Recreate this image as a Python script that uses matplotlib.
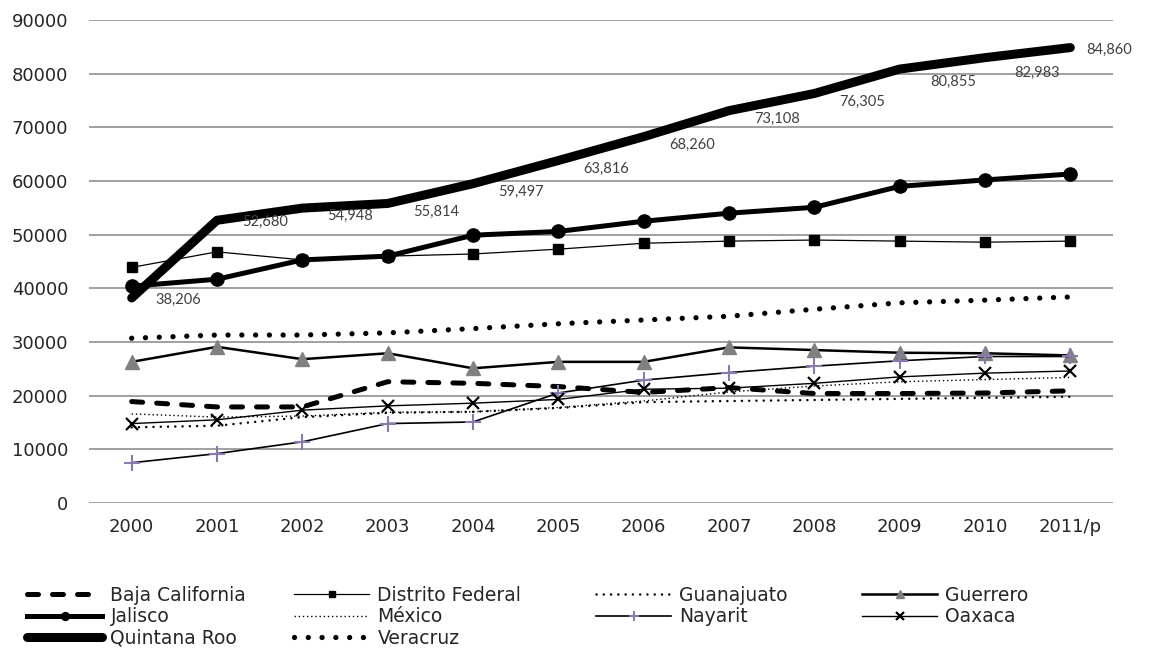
import matplotlib
matplotlib.use("Agg")
import matplotlib.pyplot as plt

years = ["2000", "2001", "2002", "2003", "2004", "2005", "2006", "2007", "2008", "2009", "2010", "2011/p"]

baja_california = [18900, 17900, 17900, 22600, 22300, 21700, 20600, 21500, 20400, 20400, 20500, 20900]
distrito_federal = [43900, 46800, 45300, 46000, 46400, 47300, 48400, 48800, 49000, 48800, 48600, 48800]
guanajuato = [14100, 14400, 16000, 16800, 17000, 17700, 18800, 19000, 19200, 19400, 19600, 19800]
guerrero = [26300, 29100, 26800, 27900, 25100, 26300, 26300, 29000, 28500, 28000, 27900, 27500]
jalisco = [40400, 41700, 45300, 46000, 49900, 50600, 52500, 54000, 55100, 59000, 60200, 61300]
mexico = [16600, 16000, 16200, 16900, 17000, 17800, 19000, 20700, 21800, 22600, 23000, 23400]
nayarit = [7500, 9200, 11400, 14800, 15100, 20500, 22900, 24300, 25500, 26500, 27300, 27300]
oaxaca = [14800, 15500, 17300, 18100, 18600, 19300, 21200, 21400, 22300, 23500, 24200, 24600]
quintana_roo = [38206, 52680, 54948, 55814, 59497, 63816, 68260, 73108, 76305, 80855, 82983, 84860]
veracruz = [30700, 31300, 31300, 31700, 32500, 33400, 34100, 34800, 36100, 37300, 37800, 38400]

# label offsets (pixels, dx right, dy down) for the Quintana Roo data labels
label_offsets = [(47, 2), (48, 2), (48, 8), (48, 8), (48, 8), (48, 8),
                 (48, 8), (48, 8), (48, 8), (54, 13), (52, 15), (39, 2)]

W, H = 1149, 651
fig = plt.figure(figsize=(W / 100, H / 100), dpi=100)
ax = fig.add_axes([89 / W, 1 - 503 / H, (1113 - 89) / W, (503 - 20) / H])

x = list(range(len(years)))
TXT = "#404040"
GRID = "#868686"

ax.set_xlim(-0.5, len(years) - 0.5)
ax.set_ylim(0, 90000)
ax.set_yticks(range(0, 90001, 10000))
ax.yaxis.grid(True, color=GRID, linewidth=1.1, zorder=0)
ax.set_axisbelow(True)
for s in ax.spines.values():
    s.set_visible(False)
ax.set_xticks(x)
ax.set_xticklabels(years)
ax.tick_params(axis="both", length=0, labelsize=13, labelcolor="#262626")
ax.tick_params(axis="y", pad=15)
ax.tick_params(axis="x", pad=11)

series = {}
series["Baja California"] = ax.plot(x, baja_california, color="black", lw=3.6,
                                    linestyle=(0, (2.2, 2.8)), dash_capstyle="round", zorder=3)[0]
series["Distrito Federal"] = ax.plot(x, distrito_federal, color="black", lw=0.9, marker="s",
                                     ms=7.5, zorder=3)[0]
series["Guanajuato"] = ax.plot(x, guanajuato, color="black", lw=1.8,
                               linestyle=(0, (0.01, 2.9)), dash_capstyle="round", zorder=3)[0]
series["Guerrero"] = ax.plot(x, guerrero, color="black", lw=1.8, marker="^", ms=10,
                             mfc="#808080", mec="#808080", zorder=3)[0]
series["Jalisco"] = ax.plot(x, jalisco, color="black", lw=3.6, marker="o", ms=9.5, zorder=4)[0]
series["México"] = ax.plot(x, mexico, color="black", lw=1.0,
                           linestyle=(0, (1, 2)), zorder=3)[0]
series["Nayarit"] = ax.plot(x, nayarit, color="black", lw=1.2, marker="+", ms=11, mew=1.5,
                            mec="#8C78B0", zorder=3)[0]
series["Oaxaca"] = ax.plot(x, oaxaca, color="black", lw=1.0, marker="x", ms=9, mew=1.6,
                           mec="black", zorder=3)[0]
series["Quintana Roo"] = ax.plot(x, quintana_roo, color="black", lw=6.5,
                                 solid_capstyle="round", solid_joinstyle="round", zorder=5)[0]
series["Veracruz"] = ax.plot(x, veracruz, color="black", lw=3.8,
                             linestyle=(0, (0.01, 2.6)), dash_capstyle="round", zorder=3)[0]

for xi, v, (dx, dy) in zip(x, quintana_roo, label_offsets):
    ax.annotate(f"{v:,}", (xi, v), xytext=(dx * 0.72, -dy * 0.72), textcoords="offset points",
                ha="center", va="center", fontsize=10.5, color=TXT, family=["Lato", "DejaVu Sans"],
                zorder=6)

columns = [["Baja California", "Jalisco", "Quintana Roo"],
           ["Distrito Federal", "México", "Veracruz"],
           ["Guanajuato", "Nayarit"],
           ["Guerrero", "Oaxaca"]]
col_x = [27, 294, 596, 862]
for names, cx in zip(columns, col_x):
    handles = [series[n] for n in names]
    leg = fig.legend(handles, names, loc="upper left", bbox_to_anchor=(cx / W, 1 - 586 / H),
                     frameon=False, fontsize=13.5, handlelength=4.0, handletextpad=0.45,
                     labelspacing=0.12, markerscale=0.6, borderaxespad=0, borderpad=0)
    for t in leg.get_texts():
        t.set_color("#262626")

fig.savefig("out.png", dpi=100)
